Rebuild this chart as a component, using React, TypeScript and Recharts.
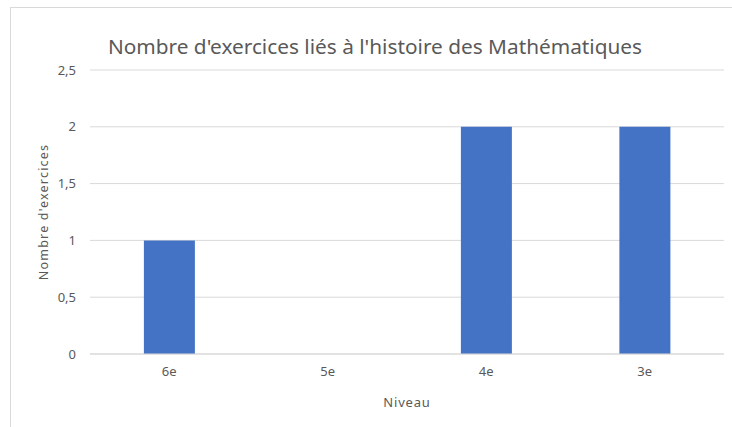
import React from 'react';
import { BarChart, Bar, XAxis, YAxis, CartesianGrid, Label } from 'recharts';

const niveaux = ['6e', '5e', '4e', '3e'];
const exercices = [1, 0, 2, 2];
const yTicks = [0, 0.5, 1, 1.5, 2, 2.5];

const data = niveaux.map((niveau, i) => ({ niveau, exercices: exercices[i] }));

const FONT = '"Noto Sans", "Open Sans", sans-serif';
const GREY = '#595959';

const formatFr = (v: number) => String(v).replace('.', ',');

export default function App() {
  return (
    <div style={{ position: 'fixed', left: 0, top: 0, width: 732, height: 427, background: '#fff', fontFamily: FONT }}>
      <div
        style={{
          position: 'absolute',
          left: 10,
          top: 7,
          width: 730,
          height: 430,
          borderLeft: '1px solid #d9d9d9',
          borderTop: '1px solid #d9d9d9',
        }}
      />
      <div
        style={{
          position: 'absolute',
          left: 0,
          width: 750,
          top: 32,
          textAlign: 'center',
          fontSize: 20.8,
          color: GREY,
          lineHeight: '28px',
        }}
      >
        Nombre d'exercices liés à l'histoire des Mathématiques
      </div>
      <BarChart
        width={732}
        height={427}
        data={data}
        margin={{ top: 70, right: 8, bottom: 20, left: 0 }}
        barCategoryGap="34%"
        style={{ position: 'absolute', left: 0, top: 0 }}
      >
        <CartesianGrid vertical={false} stroke="#d9d9d9" />
        <XAxis
          dataKey="niveau"
          height={53}
          tickSize={0}
          tickMargin={13}
          axisLine={{ stroke: '#d9d9d9' }}
          tick={{ fill: GREY, fontSize: 13, fontFamily: FONT }}
        >
          <Label value="Niveau" position="insideBottom" offset={0} fill={GREY} fontSize={13} fontFamily={FONT} letterSpacing={0.8} />
        </XAxis>
        <YAxis
          width={90}
          domain={[0, 2.5]}
          ticks={yTicks}
          tickFormatter={formatFr}
          tickSize={0}
          tickMargin={14}
          axisLine={false}
          tick={{ fill: GREY, fontSize: 13, fontFamily: FONT }}
        >
          <Label
            content={({ viewBox }: any) => {
              const cx = viewBox.x + 43;
              const cy = viewBox.y + viewBox.height / 2;
              return (
                <text
                  x={cx}
                  y={cy}
                  transform={`rotate(-90 ${cx} ${cy})`}
                  textAnchor="middle"
                  dominantBaseline="central"
                  fill={GREY}
                  fontSize={12.5}
                  fontFamily={FONT}
                  letterSpacing={1.2}
                >
                  Nombre d'exercices
                </text>
              );
            }}
          />
        </YAxis>
        <Bar dataKey="exercices" fill="#4472C4" isAnimationActive={false} />
      </BarChart>
    </div>
  );
}
